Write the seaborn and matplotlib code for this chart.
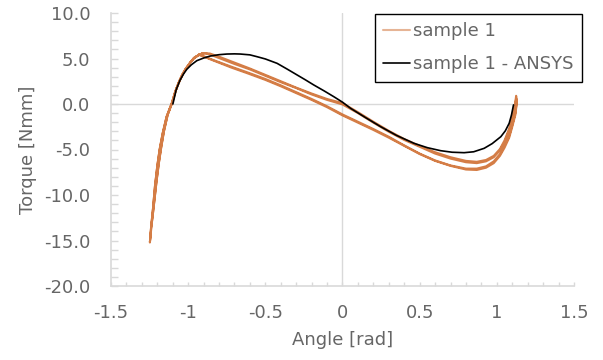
import numpy as np
import pandas as pd
import matplotlib
matplotlib.use("Agg")
import matplotlib.pyplot as plt
import seaborn as sns
from matplotlib.ticker import MultipleLocator, FuncFormatter
from matplotlib.lines import Line2D

# ---------------- data ----------------
# sample 1 : left steep branch, cycle 1 / cycle 2
left_angle_c1 = [-1.248, -1.24, -1.228, -1.215, -1.2, -1.185, -1.165, -1.14, -1.106, -1.085,
                 -1.062, -1.04, -1.019, -0.99, -0.965, -0.93, -0.9]
left_torque_c1 = [-15.2, -13.5, -11.5, -9.0, -6.8, -5.0, -3.2, -1.4, 0.1, 1.3,
                  2.3, 3.1, 3.74, 4.45, 5.0, 5.4, 5.57]
left_angle_c2 = [-1.235, -1.228, -1.218, -1.205, -1.19, -1.175, -1.157, -1.133, -1.1, -1.08,
                 -1.058, -1.036, -1.015, -0.985, -0.96, -0.925, -0.895]
left_torque_c2 = [-13.0, -12.0, -10.5, -8.5, -6.5, -4.8, -3.0, -1.2, 0.3, 1.5,
                  2.5, 3.3, 3.9, 4.6, 5.1, 5.45, 5.6]

# sample 1 : upper branch
upper_angle = [-0.86, -0.8, -0.7, -0.6, -0.5, -0.4, -0.3, -0.2, -0.1, 0.0, 0.1, 0.2, 0.3, 0.4,
               0.5, 0.6, 0.7, 0.8, 0.87, 0.93, 0.98, 1.02, 1.05, 1.08, 1.1, 1.12, 1.125]
upper_torque_c1 = [5.55, 5.2, 4.55, 3.9, 3.2, 2.5, 1.8, 1.15, 0.55, 0.1, -0.9, -1.95, -2.95, -3.85,
                   -4.6, -5.3, -5.85, -6.25, -6.35, -6.15, -5.7, -4.95, -4.0, -2.7, -1.5, 0.2, 0.9]
upper_torque_c2 = [5.45, 5.05, 4.4, 3.8, 3.1, 2.4, 1.75, 1.05, 0.45, -0.05, -1.0, -2.05, -3.05, -3.95,
                   -4.7, -5.45, -6.0, -6.4, -6.5, -6.3, -5.85, -5.1, -4.2, -2.9, -1.7, 0.0, 0.6]

# sample 1 : lower branch
lower_angle = [-0.93, -0.84, -0.72, -0.62, -0.5, -0.4, -0.3, -0.2, -0.1, 0.0, 0.1, 0.2, 0.3, 0.4,
               0.5, 0.6, 0.7, 0.8, 0.87, 0.93, 0.98, 1.02, 1.05, 1.08, 1.1, 1.12, 1.13]
lower_torque_c1 = [5.45, 4.85, 4.1, 3.5, 2.75, 2.05, 1.3, 0.55, -0.25, -1.15, -1.95, -2.75, -3.6, -4.55,
                   -5.45, -6.2, -6.75, -7.1, -7.1, -6.85, -6.3, -5.5, -4.6, -3.5, -2.3, -1.0, 0.4]
lower_torque_c2 = [5.4, 4.8, 4.0, 3.4, 2.65, 1.95, 1.2, 0.45, -0.35, -1.25, -2.05, -2.85, -3.7, -4.6,
                   -5.5, -6.25, -6.8, -7.2, -7.25, -7.0, -6.5, -5.7, -4.8, -3.7, -2.5, -1.2, 0.2]

# sample 1 - ANSYS
ansys_angle = [-1.099, -1.088, -1.078, -1.065, -1.052, -1.03, -1.009, -0.98, -0.944, -0.9, -0.857,
               -0.8, -0.749, -0.7, -0.662, -0.6, -0.554, -0.5, -0.424, -0.36, -0.294, -0.24, -0.186,
               -0.12, -0.056, 0.0, 0.052, 0.15, 0.247, 0.35, 0.463, 0.55, 0.636, 0.71, 0.788, 0.85,
               0.918, 0.97, 1.026, 1.055, 1.08, 1.095, 1.108]
ansys_torque = [0.0, 0.8, 1.54, 2.1, 2.64, 3.3, 3.81, 4.3, 4.76, 5.05, 5.27,
                5.42, 5.49, 5.51, 5.49, 5.4, 5.2, 4.95, 4.47, 3.85, 3.19, 2.65, 2.09,
                1.45, 0.8, 0.2, -0.47, -1.5, -2.49, -3.45, -4.32, -4.8, -5.13, -5.3, -5.35, -5.25,
                -4.87, -4.35, -3.59, -2.95, -2.12, -1.2, -0.1]

x_ticks = [-1.5, -1.0, -0.5, 0.0, 0.5, 1.0, 1.5]
y_ticks = [-20, -15, -10, -5, 0, 5, 10]
labels = ["sample 1", "sample 1 - ANSYS"]

# ---------------- build the measured loop path ----------------
def cycle(la, lt, ut, lwt):
    xs = list(la) + upper_angle + lower_angle[::-1] + list(la)[::-1]
    ys = list(lt) + ut + lwt[::-1] + list(lt)[::-1]
    return xs, ys

x1, y1 = cycle(left_angle_c1, left_torque_c1, upper_torque_c1, lower_torque_c1)
x2, y2 = cycle(left_angle_c2, left_torque_c2, upper_torque_c2, lower_torque_c2)
meas = pd.DataFrame({"angle": x1 + x2, "torque": y1 + y2})
ansys = pd.DataFrame({"angle": ansys_angle, "torque": ansys_torque})

# ---------------- plot ----------------
sns.set_theme(style="white")
plt.rcParams["font.family"] = ["DejaVu Sans"]
plt.rcParams["axes.unicode_minus"] = False

FS = 13
orange = "#CF6B2C"
grey = "#666666"
light = "#D9D9D9"

fig = plt.figure(figsize=(6.03, 3.6), dpi=100)
ax = fig.add_axes([111 / 603, 1 - 286 / 360, (574 - 111) / 603, (286 - 13) / 360])

ax.axhline(0, color=light, lw=1.0, zorder=0)
ax.axvline(0, color=light, lw=1.0, zorder=0)

sns.lineplot(data=meas, x="angle", y="torque", sort=False, estimator=None,
             color=orange, alpha=0.88, lw=1.5, legend=False, ax=ax)
sns.lineplot(data=ansys, x="angle", y="torque", sort=False, estimator=None,
             color="black", lw=1.2, legend=False, ax=ax)

ax.set_xlim(-1.5, 1.5)
ax.set_ylim(-20, 10)
ax.set_xticks(x_ticks)
ax.set_yticks(y_ticks)
ax.xaxis.set_minor_locator(MultipleLocator(0.1))
ax.yaxis.set_minor_locator(MultipleLocator(1))
ax.xaxis.set_major_formatter(FuncFormatter(lambda v, p: f"{v:g}".replace("\u2212", "-")))
ax.yaxis.set_major_formatter(FuncFormatter(lambda v, p: f"{v:.1f}"))

for s in ["top", "right"]:
    ax.spines[s].set_visible(False)
for s in ["left", "bottom"]:
    ax.spines[s].set_color(light)
    ax.spines[s].set_linewidth(1.2)

ax.tick_params(axis="y", which="both", direction="in", length=5, width=1, color=light,
               labelsize=FS, labelcolor=grey, pad=15, left=True)
ax.tick_params(axis="x", which="both", direction="in", length=3, width=1, color=light,
               labelsize=FS, labelcolor=grey, pad=13, bottom=True)

ax.set_xlabel("Angle [rad]", fontsize=FS, color=grey)
ax.set_ylabel("Torque [Nmm]", fontsize=FS, color=grey)
ax.yaxis.set_label_coords(-0.16, 0.5)
ax.xaxis.set_label_coords(0.5, -0.165)

handles = [Line2D([], [], color=orange, alpha=0.5, lw=1.5),
           Line2D([], [], color="black", lw=1.2)]
leg = ax.legend(handles, labels, loc="upper left", bbox_to_anchor=(375 / 603, 1 - 14 / 360),
                bbox_transform=fig.transFigure, frameon=True, fancybox=False,
                framealpha=1, edgecolor="black", fontsize=FS, handlelength=1.5,
                handletextpad=0.15, labelspacing=0.85, borderpad=0.45, borderaxespad=0)
leg.get_frame().set_linewidth(1.0)
for t in leg.get_texts():
    t.set_color(grey)

fig.savefig("out.png", dpi=100)
